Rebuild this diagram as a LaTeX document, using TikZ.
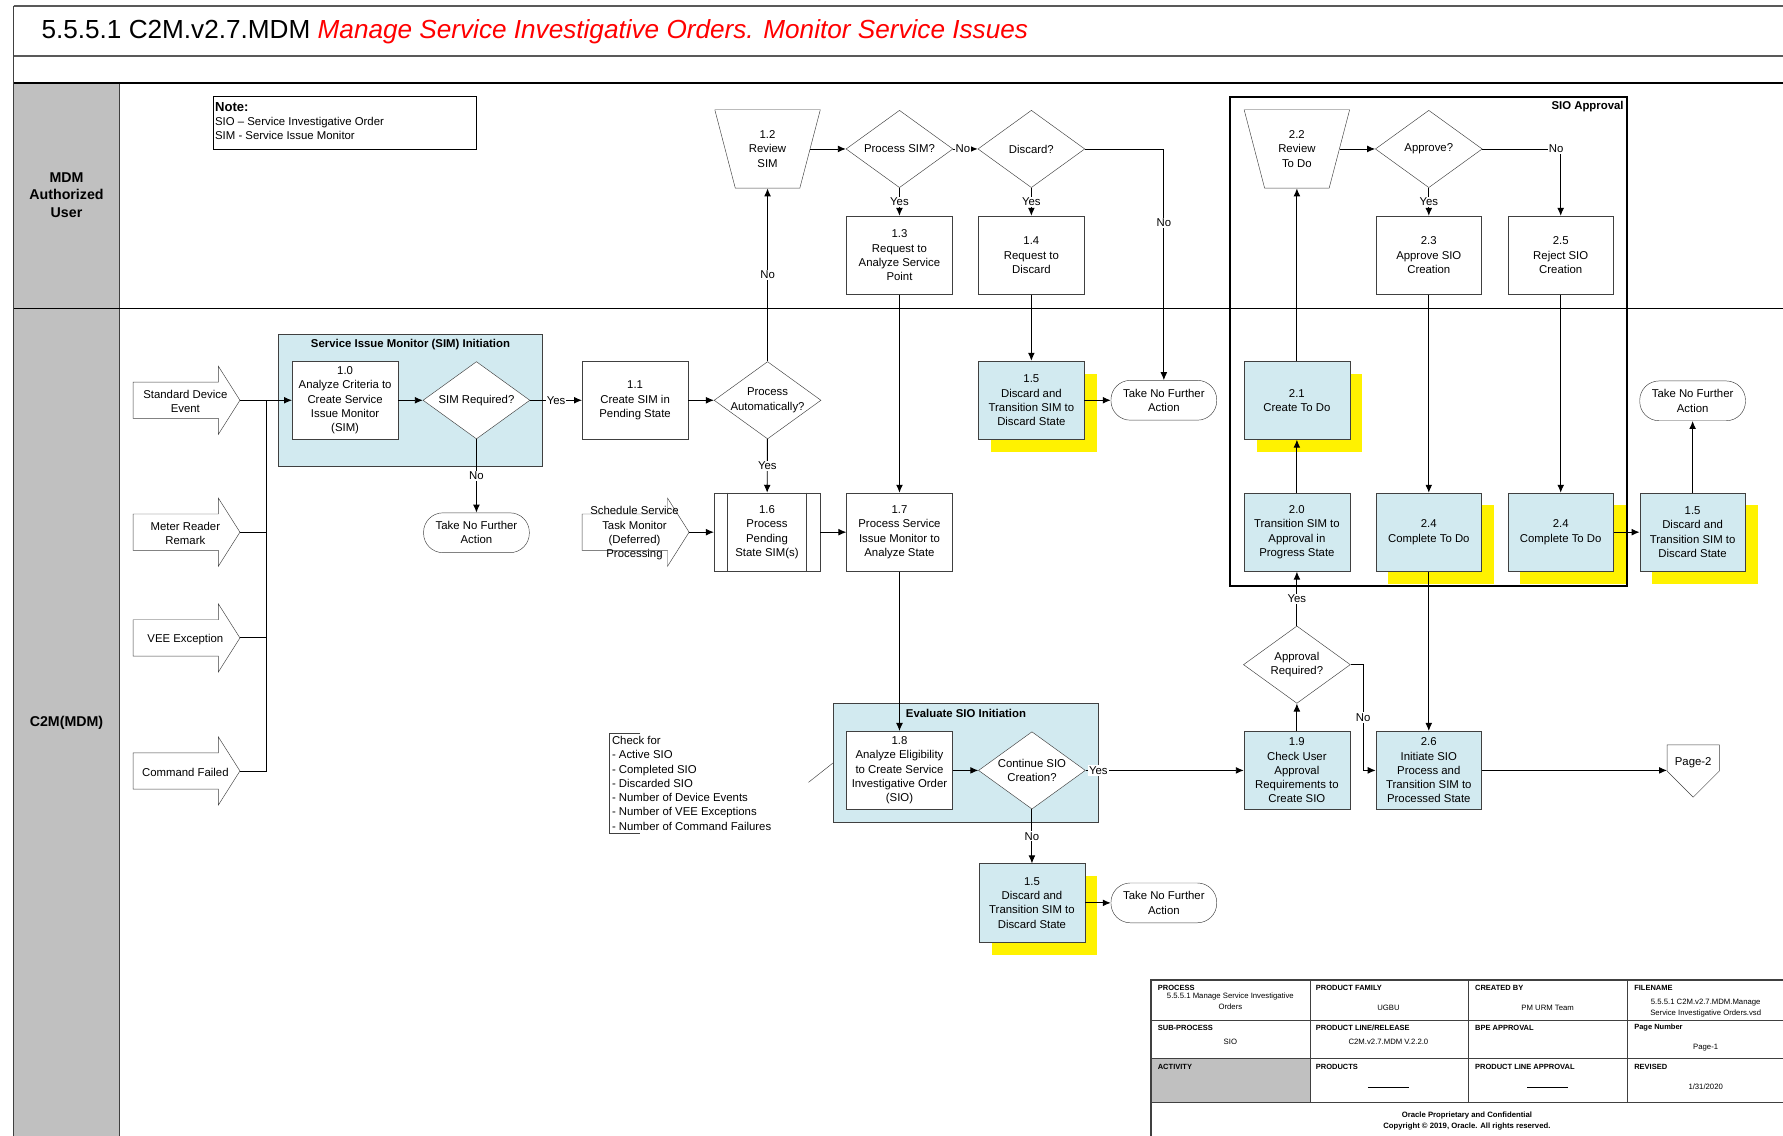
\documentclass[tikz,border=0pt]{standalone}
\usepackage{fontspec}
\setmainfont{Liberation Sans}
\usetikzlibrary{shapes.geometric, shadows, arrows.meta}

\definecolor{simblue}{RGB}{210,234,240}
\definecolor{lanegray}{RGB}{192,192,192}
\definecolor{edgegray}{RGB}{64,64,64}

\tikzset{
  txt/.style={font=\fontsize{10}{12.5}\selectfont, align=center},
  ttl/.style={font=\fontsize{10}{12}\selectfont\bfseries, inner sep=2},
  hdr/.style={font=\fontsize{6.6}{8}\selectfont\bfseries, anchor=west, inner sep=0},
  val/.style={font=\fontsize{6.8}{9}\selectfont, align=center, inner sep=0},
  stepbox/.style={txt, draw=edgegray, fill=white, minimum width=93, minimum height=69, inner sep=1},
  bluebox/.style={stepbox, fill=simblue},
  yelbox/.style={bluebox, drop shadow={shadow xshift=11pt, shadow yshift=-11pt, fill=yellow, opacity=1}},
  decide/.style={diamond, draw=edgegray, fill=white, minimum width=94, minimum height=68, inner sep=0},
  manual/.style={txt, trapezium, shape border rotate=180, trapezium left angle=72, trapezium right angle=72,
    trapezium stretches=true, draw=edgegray, fill=white, minimum width=93, minimum height=69, inner sep=0},
  term/.style={txt, draw=edgegray, fill=white, rounded corners=17, minimum width=93, minimum height=35, inner sep=1},
  cont/.style={draw=edgegray, fill=simblue, line width=1},
  flow/.style={-{Latex[length=7pt,width=6pt]}, line width=0.8},
  lbl/.style={txt, fill=white, inner sep=1},
  evtarrow/.pic={
    \draw[draw=edgegray, fill=white] (-47,-16) -- (28,-16) -- (28,-30) -- (47,0) -- (28,30) -- (28,16) -- (-47,16) -- cycle;
    \coordinate (-tip) at (47,0);
    \node[txt] (-txt) at (-1,1) {#1};
  }
}

\begin{document}
\begin{tikzpicture}[x=1pt, y=-1pt]
  \useasboundingbox (0,0) rectangle (1568,999);

  % frame and lanes
  \fill[lanegray] (12,73) rectangle (105,999);
  \draw[edgegray] (105,73) -- (105,999);
  \draw[line width=2, gray!70!black] (12,5) -- (1568,5);
  \draw[line width=2, gray!70!black] (12,49) -- (1568,49);
  \draw[line width=1.5] (12,73) -- (1568,73);
  \draw (12,271) -- (1568,271);
  \draw[line width=1, edgegray] (12,5) -- (12,999);
  \node[anchor=west, font=\fontsize{23}{27}\selectfont] (title) at (33,27.5)
    {5.5.5.1 C2M.v2.7.MDM \textcolor{red}{\itshape Manage Service Investigative Orders. Monitor Service Issues}};
  \node[font=\fontsize{12.5}{15.5}\selectfont\bfseries, align=center] (lane1) at (58.5,171.5) {MDM\\Authorized\\User};
  \node[font=\fontsize{12.5}{15.5}\selectfont\bfseries] (lane2) at (58.5,636) {C2M(MDM)};

  \node[draw, minimum width=232, minimum height=47, anchor=north west] (note) at (187,84) {};
  \node[txt, align=left, anchor=north west, inner sep=0] (notetxt) at (189,90)
    {{\fontsize{11.5}{12}\selectfont\bfseries Note:}\\SIO – Service Investigative Order\\SIM - Service Issue Monitor};

  % containers
  \node[cont, minimum width=232, minimum height=116] (simi) at (361,352) {};
  \node[ttl, anchor=north] (simittl) at ([yshift=-3pt]simi.north) {Service Issue Monitor (SIM) Initiation};
  \node[cont, minimum width=233, minimum height=104] (evsio) at (849.5,671) {};
  \node[ttl, anchor=north] (evsiottl) at ([yshift=-3pt]evsio.north) {Evaluate SIO Initiation};

  % MDM Authorized User lane
  \node[manual] (r12) at (675,131) {1.2\\Review\\SIM};
  \node[decide, label={[txt]center:Process SIM?}] (dsim) at (791,131) {};
  \node[decide, label={[txt]center:Discard?}] (ddis) at (907,131) {};
  \node[stepbox] (r13) at (791,224.5) {1.3\\Request to\\Analyze Service\\Point};
  \node[stepbox] (r14) at (907,224.5) {1.4\\Request to\\Discard};
  \node[manual] (r22) at (1140.5,131) {2.2\\Review\\To Do};
  \node[decide, label={[txt]center:Approve?}] (dapp) at (1256.5,131) {};
  \node[stepbox] (r23) at (1256.5,224.5) {2.3\\Approve SIO\\Creation};
  \node[stepbox] (r25) at (1372.5,224.5) {2.5\\Reject SIO\\Creation};

  % C2M(MDM) lane
  \pic (sde) at (164,352) {evtarrow={Standard Device\\Event}};
  \pic (mrr) at (164,468) {evtarrow={Meter Reader\\Remark}};
  \pic (vee) at (164,561) {evtarrow={VEE Exception}};
  \pic (cmd) at (164,678) {evtarrow={Command Failed}};
  \pic (sched) at (559,468) {evtarrow={Schedule Service\\Task Monitor\\(Deferred)\\Processing}};
  \coordinate (bus) at (234,352);

  \node[stepbox] (r10) at (303.5,352) {1.0\\Analyze Criteria to\\Create Service\\Issue Monitor\\(SIM)};
  \node[decide, label={[txt]center:SIM Required?}] (dreq) at (419,352) {};
  \node[term] (tn1) at (419,468.5) {Take No Further\\Action};
  \node[stepbox] (r11) at (558.5,352) {1.1\\Create SIM in\\Pending State};
  \node[decide, label={[txt]center:{Process\\Automatically?}}] (dauto) at (675,352) {};
  \node[stepbox] (r16) at (674.5,468) {1.6\\Process\\Pending\\State SIM(s)};
  \draw[edgegray] ([xshift=12pt]r16.north west) -- ([xshift=12pt]r16.south west)
    ([xshift=-12pt]r16.north east) -- ([xshift=-12pt]r16.south east);
  \node[stepbox] (r17) at (791,468) {1.7\\Process Service\\Issue Monitor to\\Analyze State};
  \node[yelbox] (r15a) at (907,352) {1.5\\Discard and\\Transition SIM to\\Discard State};
  \node[term] (tn2) at (1023.5,352) {Take No Further\\Action};
  \node[yelbox] (r21) at (1140.5,352) {2.1\\Create To Do};
  \node[bluebox] (r20) at (1140.5,468) {2.0\\Transition SIM to\\Approval in\\Progress State};
  \node[yelbox] (r24a) at (1256.5,468) {2.4\\Complete To Do};
  \node[yelbox] (r24b) at (1372.5,468) {2.4\\Complete To Do};
  \node[yelbox] (r15b) at (1488.5,468) {1.5\\Discard and\\Transition SIM to\\Discard State};
  \node[term] (tn3) at (1488.5,352.5) {Take No Further\\Action};
  \node[decide, label={[txt]center:{Approval\\Required?}}] (dappr) at (1140.5,584.5) {};
  \node[bluebox] (r19) at (1140.5,677.5) {1.9\\Check User\\Approval\\Requirements to\\Create SIO};
  \node[bluebox] (r26) at (1256.5,677.5) {2.6\\Initiate SIO\\Process and\\Transition SIM to\\Processed State};
  \node[stepbox] (r18) at (791,677.5) {1.8\\Analyze Eligibility\\to Create Service\\Investigative Order\\(SIO)};
  \node[decide, label={[txt]center:{Continue SIO\\Creation?}}] (dcont) at (907.5,677.5) {};
  \node[yelbox] (r15c) at (907.5,794) {1.5\\Discard and\\Transition SIM to\\Discard State};
  \node[term] (tn4) at (1023.5,794) {Take No Further\\Action};

  \draw[draw=edgegray, fill=white] (1466,655) -- (1512,655) -- (1512,678) -- (1489,701) -- (1466,678) -- cycle;
  \node[txt] (pg2) at (1489,671) {Page-2};
  \coordinate (pg2in) at (1466,677.5);

  \draw[edgegray] (563,645) -- (536,645) -- (536,733) -- (563,733);
  \node[txt, align=left, anchor=north west, inner sep=0] (chk) at (538,647.5)
    {Check for\\- Active SIO\\- Completed SIO\\- Discarded SIO\\- Number of Device Events\\- Number of VEE Exceptions\\- Number of Command Failures};
  \coordinate (chkend) at (711,688);

  % connectors
  \draw[flow] (sde-tip) -- (r10.west);
  \draw[line width=0.8] (mrr-tip) -| (bus);
  \draw[line width=0.8] (vee-tip) -| (bus);
  \draw[line width=0.8] (cmd-tip) -| (bus);
  \draw[flow] (r10) -- (dreq);
  \draw[flow] (dreq) -- node[lbl]{Yes} (r11);
  \draw[flow] (dreq) -- node[lbl]{No} (tn1);
  \draw[flow] (r11) -- (dauto);
  \draw[flow] (dauto) -- node[lbl]{No} (r12);
  \draw[flow] (dauto) -- node[lbl]{Yes} (r16);
  \draw[flow] (sched-tip) -- (r16.west);
  \draw[flow] (r16) -- (r17);
  \draw[flow] (r12) -- (dsim);
  \draw[flow] (dsim) -- node[lbl, pos=0.4, inner sep=0.3]{No} (ddis);
  \draw[flow] (dsim) -- node[lbl]{Yes} (r13);
  \draw[flow] (ddis) -- node[lbl]{Yes} (r14);
  \draw[flow] (ddis) -| node[lbl, pos=0.66]{No} (tn2);
  \draw[flow] (r13) -- (r17);
  \draw[flow] (r14) -- (r15a);
  \draw[flow] (r15a) -- (tn2);
  \draw[flow] (r17) -- (r18);
  \draw[flow] (r18) -- (dcont);
  \draw[flow] (dcont) -- node[lbl, pos=0.08]{Yes} (r19);
  \draw[flow] (dcont) -- node[lbl]{No} (r15c);
  \draw[flow] (r15c) -- (tn4);
  \draw[flow] (r19) -- (dappr);
  \draw[flow] (dappr) -- node[lbl]{Yes} (r20);
  \draw[flow] (dappr.east) -- ++(11,0) |- node[lbl, pos=0.25]{No} (r26.west);
  \draw[flow] (r20) -- (r21);
  \draw[flow] (r21) -- (r22);
  \draw[flow] (r22) -- (dapp);
  \draw[flow] (dapp) -| node[lbl, pos=0.5, xshift=-4pt]{No} (r25);
  \draw[flow] (dapp) -- node[lbl]{Yes} (r23);
  \draw[flow] (r23) -- (r24a);
  \draw[flow] (r25) -- (r24b);
  \draw[flow] (r24a) -- (r26);
  \draw[flow] (r24b) -- (r15b);
  \draw[flow] (r15b) -- (tn3);
  \draw[flow] (r26) -- (pg2in);
  \draw[edgegray] (chkend) -- (evsio.west);

  \draw[line width=1.6] (1082,85) rectangle (1431,515);
  \node[ttl, anchor=north east] (sioappr) at (1430,87) {SIO Approval};

  % footer
  \fill[white] (1012,862) rectangle (1568,999);
  \fill[lanegray] (1012,931) rectangle (1152,969);
  \draw[edgegray, line width=1.5] (1568,862) -- (1012,862) -- (1012,999);
  \draw[edgegray] (1012,897) -- (1568,897) (1012,931) -- (1568,931) (1012,969) -- (1568,969);
  \draw[edgegray] (1152,862) -- (1152,969) (1291,862) -- (1291,969) (1431,862) -- (1431,969);
  \node[hdr] (hproc) at (1018,869) {PROCESS};
  \node[val] (vproc) at (1082,880.5) {5.5.5.1 Manage Service Investigative\\Orders};
  \node[hdr] (hfam) at (1157,869) {PRODUCT FAMILY};
  \node[val] (vfam) at (1221,886) {UGBU};
  \node[hdr] (hby) at (1297,869) {CREATED BY};
  \node[val] (vby) at (1361,886) {PM URM Team};
  \node[hdr] (hfile) at (1437,869) {FILENAME};
  \node[val] (vfile) at (1500,886.5) {5.5.5.1 C2M.v2.7.MDM.Manage\\Service Investigative Orders.vsd};
  \node[hdr] (hsub) at (1018,904) {SUB-PROCESS};
  \node[val] (vsub) at (1082,916) {SIO};
  \node[hdr] (hrel) at (1157,904) {PRODUCT LINE/RELEASE};
  \node[val] (vrel) at (1221,916) {C2M.v2.7.MDM V.2.2.0};
  \node[hdr] (hbpe) at (1297,904) {BPE APPROVAL};
  \node[hdr] (hpage) at (1437,904) {Page Number};
  \node[val] (vpage) at (1500,921) {Page-1};
  \node[hdr] (hact) at (1018,938) {ACTIVITY};
  \node[hdr] (hprod) at (1157,938) {PRODUCTS};
  \node[val] (vprod) at (1221,956) {\rule{36pt}{0.4pt}};
  \node[hdr] (hpla) at (1297,938) {PRODUCT LINE APPROVAL};
  \node[val] (vpla) at (1361,956) {\rule{36pt}{0.4pt}};
  \node[hdr] (hrev) at (1437,938) {REVISED};
  \node[val] (vrev) at (1500,956) {1/31/2020};
  \node[val, font=\fontsize{6.8}{10}\selectfont\bfseries] (conf) at (1290,986)
    {Oracle Proprietary and Confidential\\Copyright © 2019, Oracle. All rights reserved.};
\end{tikzpicture}
\end{document}
